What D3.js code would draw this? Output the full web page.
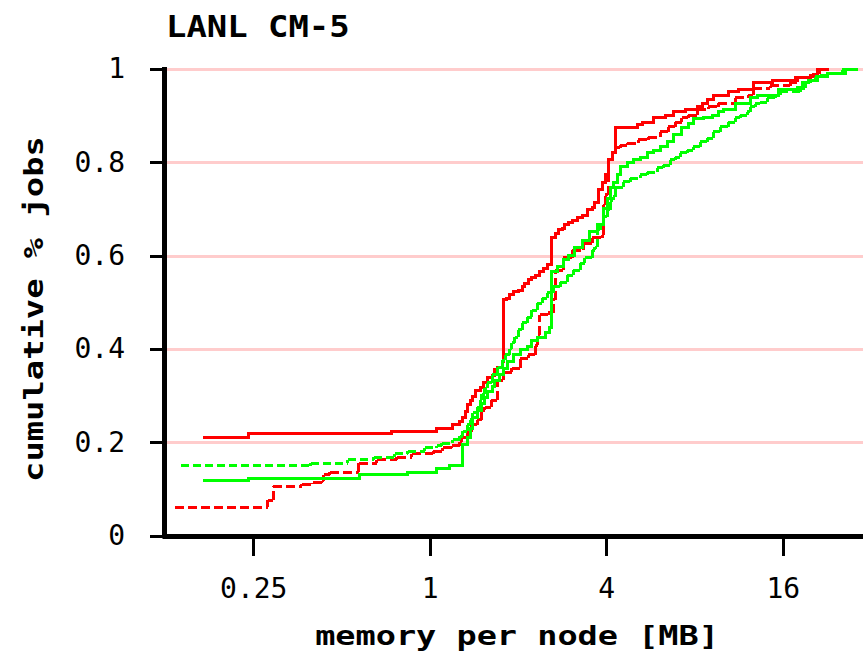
<!DOCTYPE html>
<html>
<head>
<meta charset="utf-8">
<script src="https://cdn.jsdelivr.net/npm/d3@7"></script>
<style>
body { margin: 0; background: #fff; }
svg { display: block; }
.tick text { font-family: "DejaVu Sans Mono", monospace; font-size: 28px; fill: #000; }
.lbl { font-family: "DejaVu Sans Mono", monospace; font-weight: bold; fill: #000; }
</style>
</head>
<body>
<div id="chart"></div>
<script>
// tick values
var xTicks = [0.25, 1, 4, 16];
var yTicks = [0, 0.2, 0.4, 0.6, 0.8, 1];

// red solid
var redSolidMem = [0.17, 0.24, 0.743, 1.058, 1.20, 1.268, 1.298, 1.319, 1.34, 1.372, 1.404, 1.438, 1.484, 1.531, 1.58, 1.631, 1.669, 1.709, 1.764, 1.778, 1.832, 1.878, 1.925, 2.0, 2.064, 2.113, 2.164, 2.232, 2.286, 2.377, 2.434, 2.512, 2.612, 2.675, 2.739, 2.826, 2.893, 2.963, 3.057, 3.18, 3.307, 3.44, 3.578, 3.659, 3.75, 3.87, 3.961, 4.057, 4.186, 4.286, 5.095, 5.30, 5.78, 6.35, 6.76, 7.43, 8.16, 8.49, 8.83, 9.26, 10.42, 11.27, 12.68, 14.71, 17.64, 19.84, 20.96, 22.67];
var redSolidCum = [0.211, 0.218, 0.222, 0.230, 0.237, 0.244, 0.252, 0.265, 0.280, 0.290, 0.299, 0.310, 0.318, 0.327, 0.338, 0.344, 0.355, 0.361, 0.372, 0.505, 0.509, 0.516, 0.522, 0.526, 0.533, 0.541, 0.548, 0.552, 0.558, 0.565, 0.572, 0.580, 0.638, 0.648, 0.655, 0.659, 0.666, 0.672, 0.676, 0.681, 0.687, 0.698, 0.704, 0.713, 0.741, 0.756, 0.773, 0.805, 0.820, 0.874, 0.880, 0.886, 0.895, 0.901, 0.908, 0.914, 0.919, 0.927, 0.934, 0.944, 0.951, 0.957, 0.970, 0.976, 0.981, 0.987, 1.0, 1.0];

// red dashed
var redDashMem = [0.135, 0.280, 0.292, 0.366, 0.399, 0.428, 0.435, 0.456, 0.573, 0.660, 0.773, 0.869, 1.026, 1.109, 1.19, 1.268, 1.288, 1.34, 1.393, 1.45, 1.507, 1.543, 1.618, 1.696, 1.778, 1.907, 2.032, 2.164, 2.286, 2.34, 2.377, 2.532, 2.633, 2.675, 2.849, 3.057, 3.333, 3.578, 3.87, 3.90, 3.961, 4.057, 4.186, 4.286, 4.458, 4.71, 5.136, 5.556, 6.105, 6.50, 6.87, 7.25, 7.61, 8.16, 8.90, 9.63, 11.0, 12.19, 12.68, 14.48, 16.96, 17.92, 20.15, 21.3, 22.67];
var redDashCum = [0.061, 0.076, 0.106, 0.110, 0.113, 0.117, 0.130, 0.136, 0.155, 0.162, 0.168, 0.175, 0.181, 0.188, 0.192, 0.200, 0.211, 0.222, 0.237, 0.248, 0.269, 0.275, 0.290, 0.333, 0.350, 0.359, 0.380, 0.387, 0.408, 0.430, 0.473, 0.477, 0.505, 0.569, 0.595, 0.612, 0.627, 0.638, 0.644, 0.708, 0.730, 0.805, 0.822, 0.831, 0.837, 0.841, 0.848, 0.854, 0.865, 0.876, 0.886, 0.895, 0.901, 0.914, 0.919, 0.927, 0.938, 0.944, 0.959, 0.964, 0.972, 0.981, 0.989, 1.0, 1.0];

// green solid
var greenSolidMem = [0.17, 0.24, 0.578, 0.842, 1.058, 1.172, 1.298, 1.34, 1.372, 1.404, 1.46, 1.507, 1.543, 1.58, 1.631, 1.669, 1.736, 1.778, 1.847, 1.925, 2.032, 2.147, 2.232, 2.322, 2.473, 2.571, 2.612, 2.717, 2.849, 2.963, 3.129, 3.307, 3.52, 3.721, 3.90, 4.025, 4.121, 4.22, 4.354, 4.458, 4.71, 4.94, 5.22, 5.51, 5.78, 6.105, 6.45, 6.76, 7.25, 7.61, 7.91, 8.56, 9.19, 9.63, 10.01, 11.0, 12.38, 13.08, 15.43, 17.92, 18.64, 19.53, 20.96, 22.67, 26.12, 27.82, 28.49];
var greenSolidCum = [0.117, 0.123, 0.130, 0.136, 0.143, 0.149, 0.194, 0.211, 0.230, 0.252, 0.269, 0.284, 0.295, 0.308, 0.320, 0.333, 0.346, 0.359, 0.374, 0.389, 0.398, 0.406, 0.417, 0.425, 0.436, 0.445, 0.565, 0.576, 0.591, 0.601, 0.618, 0.633, 0.651, 0.666, 0.702, 0.723, 0.745, 0.756, 0.773, 0.790, 0.799, 0.805, 0.811, 0.820, 0.826, 0.833, 0.844, 0.859, 0.874, 0.884, 0.893, 0.895, 0.901, 0.908, 0.914, 0.925, 0.938, 0.944, 0.955, 0.961, 0.970, 0.976, 0.983, 0.991, 0.998, 1.0, 1.0];

// green dashed
var greenDashMem = [0.1415, 0.393, 0.526, 0.645, 0.761, 0.842, 0.963, 1.058, 1.10, 1.20, 1.268, 1.298, 1.34, 1.372, 1.404, 1.45, 1.484, 1.507, 1.543, 1.568, 1.631, 1.709, 1.764, 1.806, 1.878, 1.907, 1.953, 2.0, 2.064, 2.147, 2.232, 2.322, 2.415, 2.512, 2.633, 2.782, 2.94, 3.081, 3.255, 3.385, 3.578, 3.659, 3.721, 3.81, 3.90, 4.025, 4.121, 4.22, 4.286, 4.565, 4.823, 5.22, 5.51, 5.965, 6.25, 6.60, 6.87, 7.14, 7.55, 7.91, 8.36, 8.83, 9.26, 9.78, 10.42, 11.0, 11.45, 12.10, 12.38, 12.88, 13.40, 14.15, 15.07, 15.66, 18.34, 19.08, 19.84, 20.64, 21.47, 23.23, 25.52, 27.82, 28.49];
var greenDashCum = [0.149, 0.155, 0.162, 0.168, 0.175, 0.181, 0.188, 0.192, 0.198, 0.205, 0.213, 0.224, 0.237, 0.248, 0.263, 0.275, 0.290, 0.303, 0.316, 0.327, 0.346, 0.361, 0.376, 0.387, 0.400, 0.413, 0.425, 0.441, 0.456, 0.468, 0.483, 0.498, 0.509, 0.520, 0.533, 0.543, 0.558, 0.569, 0.584, 0.595, 0.612, 0.618, 0.655, 0.666, 0.683, 0.698, 0.719, 0.726, 0.747, 0.758, 0.766, 0.773, 0.779, 0.788, 0.794, 0.805, 0.811, 0.820, 0.826, 0.833, 0.844, 0.852, 0.865, 0.876, 0.886, 0.895, 0.901, 0.908, 0.919, 0.925, 0.929, 0.938, 0.944, 0.951, 0.959, 0.970, 0.976, 0.983, 0.987, 0.991, 0.998, 1.0, 1.0];

var width = 863, height = 653;

var svg = d3.select('#chart').append('svg')
	.attr('width', width)
	.attr('height', height);

var x = d3.scaleLog().base(2)
	.domain([0.125, 32])
	.range([165, 871]);

var y = d3.scaleLinear()
	.domain([0, 1])
	.range([535.5, 69]);

// pink grid lines
svg.append('g').selectAll('line')
	.data(yTicks.filter(function(d) { return d > 0; }))
	.enter().append('line')
	.attr('x1', 167).attr('x2', width)
	.attr('y1', function(d) { return Math.round(y(d)); })
	.attr('y2', function(d) { return Math.round(y(d)); })
	.attr('stroke', '#ffcccc')
	.attr('stroke-width', 3)
	.attr('shape-rendering', 'crispEdges');

// break a step curve into its own horizontal / vertical pieces,
// so the dash pattern starts again on every step like the original plot
function steps(mem, cum) {
	var n = Math.min(mem.length, cum.length);
	var segs = [];
	for (var i = 0; i < n - 1; i++) {
		segs.push([mem[i], cum[i], mem[i + 1], cum[i]]);
		if (cum[i + 1] !== cum[i]) segs.push([mem[i + 1], cum[i], mem[i + 1], cum[i + 1]]);
	}
	return segs;
}

var series = [
	{mem: redSolidMem, cum: redSolidCum, color: '#ff0000', dash: null},
	{mem: redDashMem, cum: redDashCum, color: '#ff0000', dash: '9,4'},
	{mem: greenSolidMem, cum: greenSolidCum, color: '#00ff00', dash: null},
	{mem: greenDashMem, cum: greenDashCum, color: '#00ff00', dash: '8,4'}
];

var lines = svg.append('g');

series.forEach(function(s) {
	lines.append('g')
		.attr('stroke', s.color)
		.attr('stroke-width', 3)
		.attr('stroke-dasharray', s.dash)
		.attr('stroke-linecap', s.dash ? 'butt' : 'square')
		.attr('shape-rendering', 'crispEdges')
		.selectAll('line')
		.data(steps(s.mem, s.cum))
		.enter().append('line')
		.attr('x1', function(d) { return x(d[0]); })
		.attr('y1', function(d) { return y(d[1]); })
		.attr('x2', function(d) { return x(d[2]); })
		.attr('y2', function(d) { return y(d[3]); });
});

// axes
var xAxis = d3.axisBottom(x)
	.tickValues(xTicks)
	.tickFormat(function(d) { return String(d); })
	.tickSize(20)
	.tickSizeOuter(0)
	.tickPadding(22);

var yAxis = d3.axisLeft(y)
	.tickValues(yTicks)
	.tickFormat(function(d) { return String(d); })
	.tickSize(14)
	.tickSizeOuter(0)
	.tickPadding(25);

var gx = svg.append('g')
	.attr('transform', 'translate(0,536)')
	.call(xAxis);

var gy = svg.append('g')
	.attr('transform', 'translate(164,0)')
	.call(yAxis);

[gx, gy].forEach(function(g) {
	g.select('.domain')
		.attr('stroke', '#000')
		.attr('stroke-width', 5)
		.attr('stroke-linecap', 'square');
	g.selectAll('.tick line')
		.attr('stroke', '#000')
		.attr('stroke-width', 3)
		.attr('shape-rendering', 'crispEdges');
});

// titles, widened a bit to look like the blocky original font
svg.append('text')
	.attr('class', 'lbl')
	.attr('transform', 'translate(166,37) scale(1.13,1)')
	.attr('font-size', 30)
	.text('LANL CM-5');

svg.append('text')
	.attr('class', 'lbl')
	.attr('transform', 'translate(517,645) scale(1.29,1)')
	.attr('text-anchor', 'middle')
	.attr('font-size', 26)
	.text('memory per node [MB]');

svg.append('text')
	.attr('class', 'lbl')
	.attr('transform', 'translate(43,309) rotate(-90) scale(1.3,1)')
	.attr('text-anchor', 'middle')
	.attr('font-size', 26)
	.text('cumulative % jobs');
</script>
</body>
</html>
